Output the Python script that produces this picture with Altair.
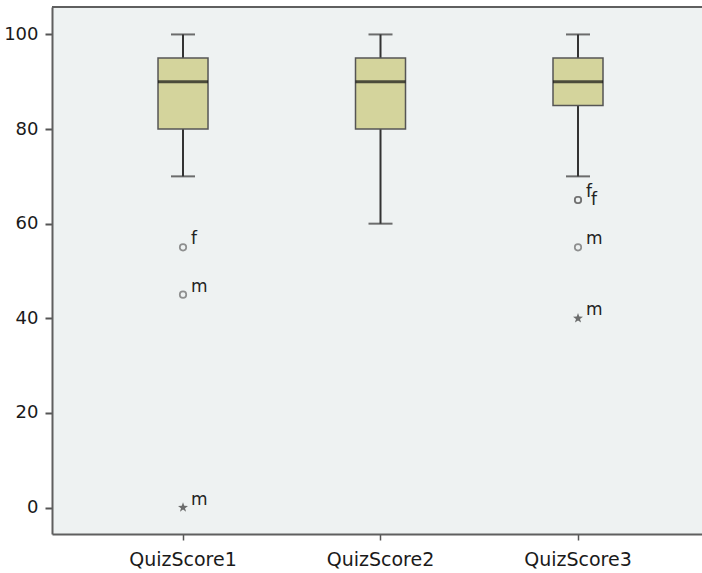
import altair as alt
import pandas as pd

# Five-number summaries per quiz
categories = ["QuizScore1", "QuizScore2", "QuizScore3"]
whisker_low = [70, 60, 70]
quartile_1 = [80, 80, 85]
median = [90, 90, 90]
quartile_3 = [95, 95, 95]
whisker_high = [100, 100, 100]

# Outlying cases, labelled by gender
outlier_group = ["QuizScore1", "QuizScore1", "QuizScore1",
                 "QuizScore3", "QuizScore3", "QuizScore3", "QuizScore3"]
outlier_value = [55, 45, 0, 65, 65, 55, 40]
outlier_kind = ["mild", "mild", "extreme", "mild", "mild", "mild", "extreme"]
outlier_label = ["f", "m", "m", "f", "f", "m", "m"]

y_ticks = [0, 20, 40, 60, 80, 100]

boxes = pd.DataFrame({
    "quiz": categories,
    "low": whisker_low,
    "q1": quartile_1,
    "median": median,
    "q3": quartile_3,
    "high": whisker_high,
})
outliers = pd.DataFrame({
    "quiz": outlier_group,
    "score": outlier_value,
    "kind": outlier_kind,
    "gender": outlier_label,
})

FONT = "DejaVu Sans"
FRAME = "#5f5f5f"
STAR = ("M0,-1L0.235,-0.324L0.951,-0.309L0.38,0.124L0.588,0.809"
        "L0,0.4L-0.588,0.809L-0.38,0.124L-0.951,-0.309L-0.235,-0.324Z")

x = alt.X(
    "quiz:N",
    sort=categories,
    title=None,
    scale=alt.Scale(paddingInner=0, paddingOuter=0.1456, align=0.561),
    axis=alt.Axis(labelAngle=0, labelFont=FONT, labelFontSize=19,
                  labelColor="#1a1a1a", labelPadding=10, tickSize=6,
                  tickColor="#555555", tickWidth=1.5,
                  domain=True, domainColor=FRAME, domainWidth=2),
)
y_scale = alt.Scale(domain=[-5.6, 105.8], nice=False, zero=False)
y_axis = alt.Axis(values=y_ticks, labelFont=FONT, labelFontSize=18,
                  labelColor="#1a1a1a", labelPadding=7, tickSize=7,
                  tickColor="#555555", tickWidth=2, grid=False,
                  domain=True, domainColor=FRAME, domainWidth=2)

base_box = alt.Chart(boxes)

# top edge of the frame (the right edge runs off the canvas)
top_edge = base_box.mark_rule(color=FRAME, strokeWidth=2).encode(
    x=alt.value(0), x2=alt.value(650), y=alt.value(0)
)

whisker = base_box.mark_rule(color="#333333", strokeWidth=2).encode(
    x=x,
    y=alt.Y("low:Q", scale=y_scale, axis=y_axis, title=None),
    y2="high:Q",
)
cap_low = base_box.mark_tick(color="#333333", size=24, thickness=2).encode(
    x=x, y=alt.Y("low:Q", scale=y_scale)
)
cap_high = base_box.mark_tick(color="#333333", size=24, thickness=2).encode(
    x=x, y=alt.Y("high:Q", scale=y_scale)
)
box = base_box.mark_bar(size=50, fill="#d4d49c", stroke="#555555",
                        strokeWidth=1.5).encode(
    x=x, y=alt.Y("q1:Q", scale=y_scale), y2="q3:Q"
)
mid = base_box.mark_tick(color="#111111", size=50, thickness=3).encode(
    x=x, y=alt.Y("median:Q", scale=y_scale)
)

base_out = alt.Chart(outliers).transform_window(
    rank="row_number()", groupby=["quiz", "score"]
)

mild = base_out.transform_filter(alt.datum.kind == "mild").mark_point(
    shape="circle", size=42, filled=False, stroke="#666666", strokeWidth=1.7
).encode(x=x, y=alt.Y("score:Q", scale=y_scale))

extreme = base_out.transform_filter(alt.datum.kind == "extreme").mark_point(
    shape=STAR, size=110, filled=True, fill="#333333", strokeWidth=0
).encode(x=x, y=alt.Y("score:Q", scale=y_scale))

label_first = base_out.transform_filter(alt.datum.rank == 1).mark_text(
    align="left", baseline="alphabetic", dx=8, dy=-3,
    font=FONT, fontSize=17, color="#222222"
).encode(x=x, y=alt.Y("score:Q", scale=y_scale), text="gender:N")

label_second = base_out.transform_filter(alt.datum.rank == 2).mark_text(
    align="left", baseline="alphabetic", dx=13, dy=5,
    font=FONT, fontSize=17, color="#222222"
).encode(x=x, y=alt.Y("score:Q", scale=y_scale), text="gender:N")

chart = alt.layer(
    top_edge, whisker, cap_low, cap_high, box, mid, mild, extreme,
    label_first, label_second
).properties(
    width=650,
    height=527,
    autosize=alt.AutoSizeParams(type="none"),
    padding={"left": 52, "top": 7, "right": 0, "bottom": 39},
    background="white",
).configure_view(
    fill="#eef2f2", stroke=None
)

chart.save("out.html", embed_options={"renderer": "svg", "actions": False})
